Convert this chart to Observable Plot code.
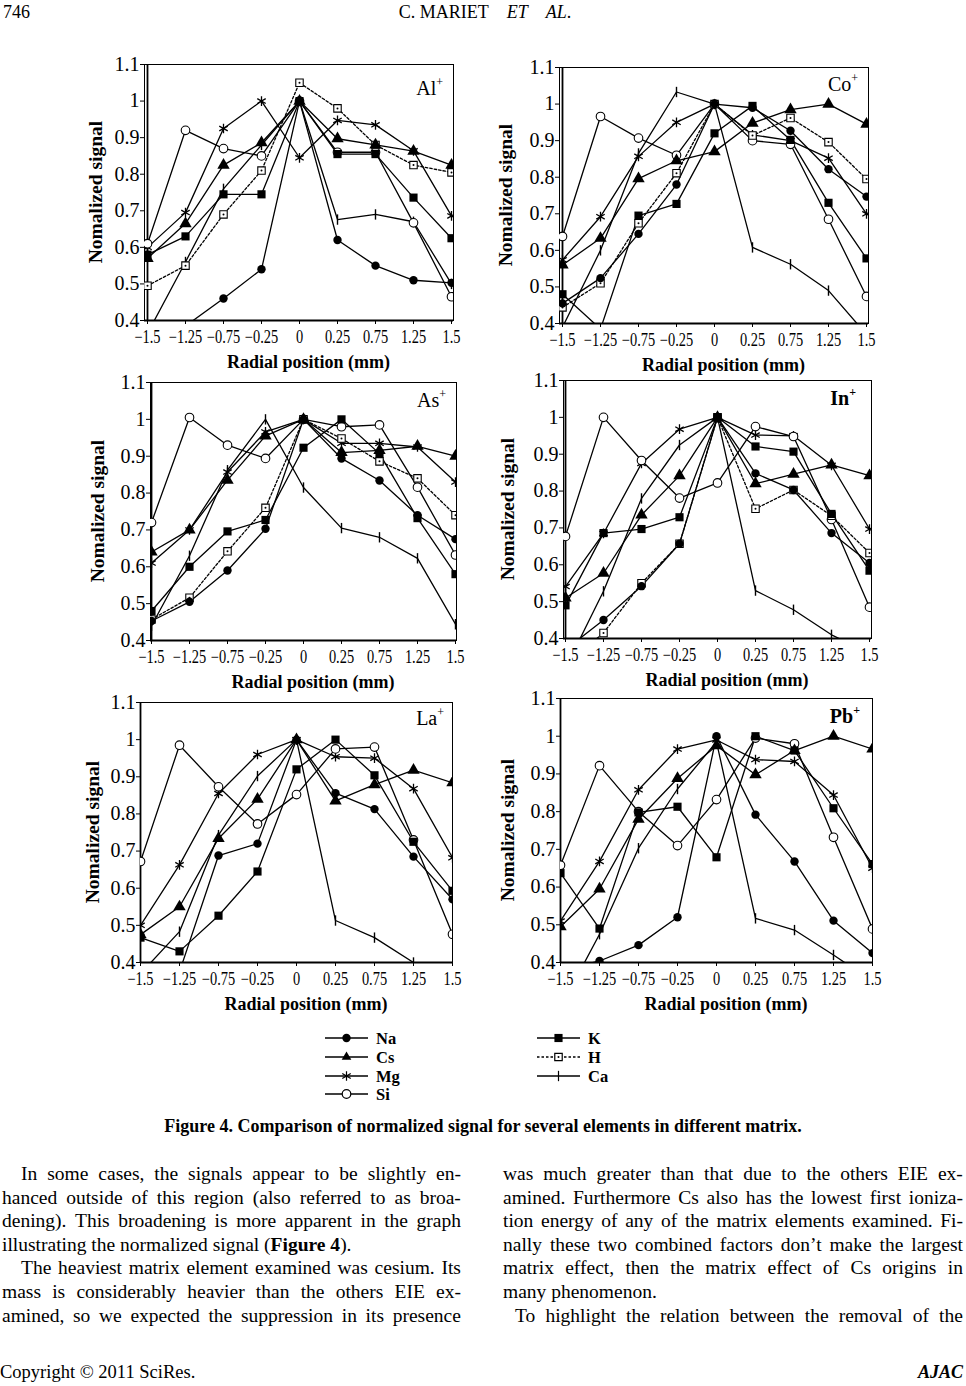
<!DOCTYPE html>
<html><head><meta charset="utf-8">
<script src="https://cdn.jsdelivr.net/npm/d3@7"></script>
<script src="https://cdn.jsdelivr.net/npm/@observablehq/plot@0.6"></script>
<style>
body{margin:0;background:#fff;}
#page{position:relative;width:966px;height:1386px;overflow:hidden;font-family:"Liberation Serif","Times New Roman",serif;color:#000;background:#fff;}
.abs{position:absolute;white-space:nowrap;}
.ln{position:absolute;white-space:nowrap;font-size:19.5px;line-height:23.6px;height:23.6px;}
.jl{display:flex;justify-content:space-between;}
svg{overflow:visible;}
</style></head><body><div id="page"></div>
<script>
// ---------- data ----------
const positions = [-1.5, -1.25, -0.75, -0.25, 0, 0.25, 0.75, 1.25, 1.5];
const positionLabels = ["\u22121.5","\u22121.25","\u22120.75","\u22120.25","0","0.25","0.75","1.25","1.5"];
const yTicks = [0.4, 0.5, 0.6, 0.7, 0.8, 0.9, 1.0, 1.1];
const yTickLabels = ["0.4","0.5","0.6","0.7","0.8","0.9","1","1.1"];
const seriesNames = ["Na","Cs","Mg","Si","K","H","Ca"];
const panelNames = ["Al","Co","As","In","La","Pb"];

const alSignal = {
  Na: [0.33, 0.385, 0.46, 0.54, 1.0, 0.62, 0.55, 0.51, 0.503],
  Cs: [0.57, 0.665, 0.825, 0.886, 1.0, 0.897, 0.88, 0.863, 0.825],
  Mg: [0.60, 0.695, 0.925, 1.0, 0.845, 0.947, 0.935, 0.864, 0.686],
  Si: [0.61, 0.92, 0.87, 0.85, 1.0, 0.86, 0.86, 0.667, 0.465],
  K:  [0.58, 0.63, 0.745, 0.745, 1.0, 0.855, 0.855, 0.736, 0.625],
  H:  [0.495, 0.55, 0.69, 0.81, 1.05, 0.98, 0.88, 0.825, 0.805],
  Ca: [0.365, 0.56, 0.76, 0.88, 1.0, 0.676, 0.69, 0.67, 0.5]
};
const coSignal = {
  Na: [0.455, 0.524, 0.645, 0.78, 1.0, 0.99, 0.927, 0.822, 0.747],
  Cs: [0.56, 0.633, 0.796, 0.845, 0.87, 0.948, 0.985, 1.0, 0.945],
  Mg: [0.574, 0.692, 0.857, 0.95, 1.0, 0.916, 0.9, 0.852, 0.70],
  Si: [0.638, 0.966, 0.907, 0.86, 1.0, 0.9, 0.89, 0.685, 0.474],
  K:  [0.48, 0.385, 0.695, 0.727, 0.92, 0.995, 0.902, 0.73, 0.578],
  H:  [0.444, 0.51, 0.674, 0.811, 1.0, 0.914, 0.962, 0.896, 0.795],
  Ca: [0.39, 0.60, 0.865, 1.033, 1.0, 0.608, 0.562, 0.49, 0.37]
};
const asSignal = {
  Na: [0.453, 0.505, 0.59, 0.703, 1.0, 0.894, 0.834, 0.74, 0.675],
  Cs: [0.64, 0.70, 0.835, 0.955, 1.0, 0.91, 0.916, 0.927, 0.90],
  Mg: [0.61, 0.70, 0.857, 0.966, 1.0, 0.935, 0.935, 0.925, 0.83],
  Si: [0.72, 1.005, 0.93, 0.894, 1.0, 0.98, 0.985, 0.816, 0.632],
  K:  [0.48, 0.60, 0.696, 0.727, 0.923, 1.0, 0.907, 0.732, 0.58],
  H:  [0.457, 0.516, 0.642, 0.76, 1.0, 0.948, 0.886, 0.84, 0.74],
  Ca: [0.44, 0.63, 0.862, 1.0, 0.815, 0.705, 0.68, 0.623, 0.444]
};
const inSignal = {
  Na: [0.37, 0.45, 0.542, 0.657, 1.0, 0.848, 0.803, 0.686, 0.605],
  Cs: [0.51, 0.577, 0.735, 0.842, 1.0, 0.82, 0.846, 0.871, 0.842],
  Mg: [0.541, 0.685, 0.875, 0.968, 1.0, 0.952, 0.95, 0.87, 0.697],
  Si: [0.677, 1.0, 0.883, 0.781, 0.822, 0.975, 0.948, 0.723, 0.485],
  K:  [0.49, 0.686, 0.697, 0.729, 1.0, 0.921, 0.907, 0.738, 0.584],
  H:  [0.33, 0.415, 0.55, 0.657, 1.0, 0.752, 0.803, 0.733, 0.632],
  Ca: [0.32, 0.528, 0.78, 0.925, 1.0, 0.53, 0.478, 0.41, 0.36]
};
const laSignal = {
  Na: [0.30, 0.375, 0.688, 0.72, 1.0, 0.856, 0.813, 0.685, 0.57],
  Cs: [0.475, 0.55, 0.734, 0.84, 1.0, 0.835, 0.879, 0.918, 0.884],
  Mg: [0.50, 0.663, 0.855, 0.96, 1.0, 0.954, 0.95, 0.868, 0.682],
  Si: [0.672, 0.985, 0.873, 0.773, 0.852, 0.975, 0.98, 0.73, 0.476],
  K:  [0.467, 0.43, 0.526, 0.645, 0.92, 1.0, 0.904, 0.725, 0.593],
  Ca: [0.37, 0.483, 0.743, 0.902, 1.0, 0.513, 0.467, 0.40, 0.33]
};
const pbSignal = {
  Na: [0.38, 0.404, 0.446, 0.52, 1.0, 0.792, 0.668, 0.511, 0.425],
  Cs: [0.495, 0.595, 0.78, 0.888, 0.975, 0.898, 0.962, 1.0, 0.966],
  Mg: [0.51, 0.668, 0.858, 0.966, 0.99, 0.938, 0.933, 0.844, 0.65],
  Si: [0.658, 0.922, 0.80, 0.71, 0.832, 0.995, 0.98, 0.732, 0.489],
  K:  [0.637, 0.49, 0.798, 0.813, 0.679, 1.0, 0.962, 0.809, 0.661],
  Ca: [0.28, 0.475, 0.703, 0.86, 0.985, 0.517, 0.486, 0.42, 0.35]
};
const panelData = [alSignal, coSignal, asSignal, inSignal, laSignal, pbSignal];

// ---------- layout ----------
const frames = [
  {x0:144, x1:453, y0:64,  y1:320, lx:10, ly:24, bold:false, yt:49},
  {x0:559, x1:868, y0:67,  y1:323, lx:10, ly:17, bold:false, yt:54},
  {x0:150, x1:456, y0:382, y1:640, lx:10, ly:18, bold:false, yt:53},
  {x0:563, x1:871, y0:380, y1:638, lx:15, ly:18, bold:true,  yt:56},
  {x0:140, x1:452, y0:702, y1:962, lx:8,  ly:16, bold:false, yt:48},
  {x0:560, x1:872, y0:698, y1:962, lx:12, ly:18, bold:true,  yt:53}
];
const page = document.getElementById("page");
const barSymbol = {draw(ctx, size){ const h = Math.sqrt(size/Math.PI)*1.15; ctx.moveTo(0,-h); ctx.lineTo(0,h); }};

function drawPanel(name, data, f) {
  const mL = 80, mR = 14, mT = 8, mB = 62;
  const W = f.x1 - f.x0, H = f.y1 - f.y0;
  const rows = [];
  for (const s of seriesNames) if (data[s]) data[s].forEach((v, i) => rows.push({s, x: positions[i], v}));
  const pick = s => rows.filter(d => d.s === s);
  const xLab = new Map(positions.map((p, i) => [p, positionLabels[i]]));
  const yLab = new Map(yTicks.map((t, i) => [t, yTickLabels[i]]));
  const svg = Plot.plot({
    width: W + mL + mR, height: H + mT + mB,
    marginLeft: mL, marginRight: mR, marginTop: mT, marginBottom: mB,
    style: {fontFamily: "'Liberation Serif', serif", background: "transparent", color: "#000", overflow: "visible"},
    x: {type: "point", domain: positions, padding: 0},
    y: {domain: [0.4, 1.1]},
    marks: [
      Plot.frame({stroke: "#000", strokeWidth: 1}),
      Plot.axisY({ticks: yTicks, tickFormat: d => yLab.get(d), tickSize: 4, tickPadding: 1, fontSize: 20, label: null}),
      Plot.axisX({ticks: positions, tickFormat: d => xLab.get(d), tickSize: 4, tickPadding: 6, fontSize: 18, label: null}),
      Plot.ruleX([positions[0]], {stroke: "#000", strokeWidth: 1.8}),
      Plot.ruleY([0.4], {stroke: "#000", strokeWidth: 1.8}),
      Plot.line(rows.filter(d => d.s !== "H"), {x: "x", y: "v", z: "s", stroke: "#000", strokeWidth: 1.3, clip: true}),
      Plot.line(pick("H"), {x: "x", y: "v", stroke: "#000", strokeWidth: 1.3, strokeDasharray: "2.5,2", clip: true}),
      Plot.dot(pick("Ca"), {x: "x", y: "v", symbol: barSymbol, fill: "none", stroke: "#000", strokeWidth: 1.4, r: 4.5, clip: true}),
      Plot.dot(pick("Mg"), {x: "x", y: "v", symbol: "asterisk", stroke: "#000", strokeWidth: 1.3, r: 4.6, clip: true}),
      Plot.dot(pick("Si"), {x: "x", y: "v", symbol: "circle", fill: "#fff", stroke: "#000", strokeWidth: 1.1, r: 4.3, clip: true}),
      Plot.dot(pick("H"), {x: "x", y: "v", symbol: "square", fill: "#fff", stroke: "#000", strokeWidth: 1.1, r: 4.2, clip: true}),
      Plot.dot(pick("H"), {x: "x", y: "v", fill: "#000", r: 1, clip: true}),
      Plot.dot(pick("Na"), {x: "x", y: "v", symbol: "circle", fill: "#000", r: 4.2, clip: true}),
      Plot.dot(pick("Cs"), {x: "x", y: "v", symbol: "triangle", fill: "#000", r: 4.6, clip: true}),
      Plot.dot(pick("K"), {x: "x", y: "v", symbol: "square", fill: "#000", r: 4.6, clip: true})
    ]
  });
  svg.style.position = "absolute";
  svg.style.left = (f.x0 - mL) + "px";
  svg.style.top = (f.y0 - mT) + "px";
  page.appendChild(svg);
  const sel = d3.select(svg);
  sel.selectAll('[aria-label="x-axis tick label"] text').each(function () {
    const len = this.getComputedTextLength();
    this.setAttribute("textLength", (len * 0.8).toFixed(1));
    this.setAttribute("lengthAdjust", "spacingAndGlyphs");
  });
  // element label
  const lab = sel.append("text")
    .attr("x", mL + W - f.lx).attr("y", mT + f.ly).attr("dy", "0.35em")
    .attr("text-anchor", "end").attr("font-size", 20)
    .attr("font-weight", f.bold ? "bold" : "normal")
    .attr("font-family", "'Liberation Serif', serif");
  lab.append("tspan").text(name);
  lab.append("tspan").attr("font-size", 12).attr("dy", "-0.75em").text("+");
  // axis titles
  sel.append("text")
    .attr("transform", `translate(${mL - f.yt},${mT + H / 2}) rotate(-90)`)
    .attr("text-anchor", "middle").attr("dy", "0.35em")
    .attr("font-size", 19.5).attr("font-weight", "bold")
    .attr("font-family", "'Liberation Serif', serif")
    .text("Nomalized signal");
  sel.append("text")
    .attr("x", mL + W / 2 + 10).attr("y", mT + H + 42).attr("dy", "0.35em")
    .attr("text-anchor", "middle")
    .attr("font-size", 18).attr("font-weight", "bold")
    .attr("font-family", "'Liberation Serif', serif")
    .text("Radial position (mm)");
}
panelNames.forEach((n, i) => drawPanel(n, panelData[i], frames[i]));

// ---------- legend ----------
const legendItems = [
  {s: "Na", col: 0, row: 0}, {s: "Cs", col: 0, row: 1}, {s: "Mg", col: 0, row: 2}, {s: "Si", col: 0, row: 3},
  {s: "K", col: 1, row: 0}, {s: "H", col: 1, row: 1}, {s: "Ca", col: 1, row: 2}
];
const lsvg = d3.select(page).append("svg")
  .attr("width", 966).attr("height", 90)
  .style("position", "absolute").style("left", "0px").style("top", "1020px");
const colX = [325, 537], rowY = [18, 37, 56, 74];
const symFor = {
  Na: {t: d3.symbolCircle, r: 4.2, fill: "#000", stroke: "none"},
  Cs: {t: d3.symbolTriangle2, r: 4.6, fill: "#000", stroke: "none"},
  Mg: {t: d3.symbolAsterisk, r: 4.6, fill: "none", stroke: "#000"},
  Si: {t: d3.symbolCircle, r: 4.3, fill: "#fff", stroke: "#000"},
  K:  {t: d3.symbolSquare, r: 4.6, fill: "#000", stroke: "none"},
  H:  {t: d3.symbolSquare, r: 4.2, fill: "#fff", stroke: "#000"},
  Ca: {t: barSymbol, r: 4.5, fill: "none", stroke: "#000"}
};
legendItems.forEach(it => {
  const x = colX[it.col], y = rowY[it.row];
  const g = lsvg.append("g");
  g.append("line").attr("x1", x).attr("x2", x + 43).attr("y1", y).attr("y2", y)
    .attr("stroke", "#000").attr("stroke-width", 1.3)
    .attr("stroke-dasharray", it.s === "H" ? "2.5,2" : null);
  const sp = symFor[it.s];
  g.append("path").attr("transform", `translate(${x + 21.5},${y})`)
    .attr("d", d3.symbol(sp.t, Math.PI * sp.r * sp.r)())
    .attr("fill", sp.fill).attr("stroke", sp.stroke).attr("stroke-width", 1.2);
  if (it.s === "H") g.append("circle").attr("cx", x + 21.5).attr("cy", y).attr("r", 1).attr("fill", "#000");
  g.append("text").attr("x", x + 51).attr("y", y).attr("dy", "0.35em")
    .attr("font-family", "'Liberation Serif', serif").attr("font-size", 16.5).attr("font-weight", "bold")
    .text(it.s);
});

// ---------- page text ----------
function addDiv(html, css) {
  const d = document.createElement("div");
  d.className = "abs";
  d.innerHTML = html;
  Object.assign(d.style, css);
  page.appendChild(d);
  return d;
}
addDiv("746", {left: "3px", top: "2px", fontSize: "18px", lineHeight: "20px"});
addDiv("C. MARIET&nbsp;&nbsp;&nbsp;&nbsp;<i>ET</i>&nbsp;&nbsp;&nbsp;&nbsp;<i>AL</i>.", {left: "0px", width: "970px", textAlign: "center", top: "2px", fontSize: "18px", lineHeight: "20px"});
addDiv("Figure 4. Comparison of normalized signal for several elements in different matrix.",
  {left: "0px", width: "966px", textAlign: "center", top: "1116px", fontSize: "18px", lineHeight: "21px", fontWeight: "bold"});
addDiv("Copyright © 2011 SciRes.", {left: "0px", top: "1362px", fontSize: "18.5px", lineHeight: "20px"});
addDiv("AJAC", {right: "3px", top: "1362px", fontSize: "18px", lineHeight: "20px", fontWeight: "bold", fontStyle: "italic"});

const leftLines = [
  ["In some cases, the signals appear to be slightly en-", true, true],
  ["hanced outside of this region (also referred to as broa-", false, true],
  ["dening). This broadening is more apparent in the graph", false, true],
  ["illustrating the normalized signal (<b>Figure 4</b>).", false, false],
  ["The heaviest matrix element examined was cesium. Its", true, true],
  ["mass is considerably heavier than the others EIE ex-", false, true],
  ["amined, so we expected the suppression in its presence", false, true]
];
const rightLines = [
  ["was much greater than that due to the others EIE ex-", false, true],
  ["amined. Furthermore Cs also has the lowest first ioniza-", false, true],
  ["tion energy of any of the matrix elements examined. Fi-", false, true],
  ["nally these two combined factors don\u2019t make the largest", false, true],
  ["matrix effect, then the matrix effect of Cs origins in", false, true],
  ["many phenomenon.", false, false],
  ["To highlight the relation between the removal of the", true, true]
];
function addColumn(lines, x0, width, indent) {
  lines.forEach(([txt, ind, just], i) => {
    const d = document.createElement("div");
    d.className = "ln" + (just ? " jl" : "");
    const left = x0 + (ind ? indent : 0);
    d.style.left = left + "px";
    d.style.width = (width - (ind ? indent : 0)) + "px";
    d.style.top = (1162 + i * 23.6) + "px";
    if (just) {
      d.innerHTML = txt.split(" ").map(w => `<span>${w}</span>`).join("");
    } else {
      d.innerHTML = txt;
    }
    page.appendChild(d);
  });
}
addColumn(leftLines, 2, 459, 19);
addColumn(rightLines, 503, 460, 12);
</script></body></html>
